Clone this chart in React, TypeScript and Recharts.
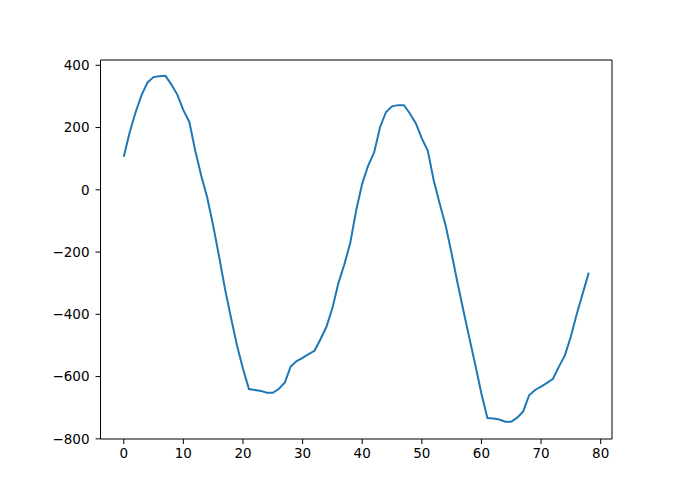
import { LineChart, Line, XAxis, YAxis, ReferenceLine } from 'recharts'

const values = [
  106, 185, 250, 305, 345, 362, 365, 366, 338, 305,
  256, 218, 125, 45, -25, -115, -215, -320, -412, -500,
  -575, -640, -643, -646, -652, -652, -640, -620, -568, -550,
  -540, -528, -517, -480, -440, -380, -300, -240, -170, -65,
  20, 78, 120, 202, 250, 268, 272, 272, 245, 213,
  165, 125, 30, -45, -115, -205, -300, -390, -478, -565,
  -655, -733, -735, -738, -745, -745, -732, -712, -660, -643,
  -632, -620, -607, -568, -532, -471, -398, -332, -266,
]

const xTicks = [0, 10, 20, 30, 40, 50, 60, 70, 80]
const yTicks = [-800, -600, -400, -200, 0, 200, 400]

const data = values.map((v, i) => ({ step: i, value: v }))

const X_MIN = -3.9
const X_MAX = 81.9
const Y_MIN = -800.5
const Y_MAX = 417

const tickStyle = { fill: '#000', fontSize: 13.5, fontFamily: 'DejaVu Sans' }
const minus = (v: number) => String(v).replace('-', '\u2212')

export default function App() {
  return (
    <div style={{ position: 'absolute', left: 0, top: 0 }}>
      <LineChart
        width={695}
        height={494}
        data={data}
        margin={{ top: 60, right: 83, bottom: 25, left: 0 }}
      >
        <XAxis
          dataKey="step"
          type="number"
          domain={[X_MIN, X_MAX]}
          ticks={xTicks}
          allowDataOverflow
          height={30}
          tick={tickStyle}
          tickSize={5}
          tickMargin={4}
          stroke="#000"
          tickFormatter={minus}
        />
        <YAxis
          type="number"
          domain={[Y_MIN, Y_MAX]}
          ticks={yTicks}
          allowDataOverflow
          width={100.5}
          tick={tickStyle}
          tickSize={5}
          tickMargin={6}
          stroke="#000"
          tickFormatter={minus}
        />
        <ReferenceLine y={Y_MAX} stroke="#000" />
        <ReferenceLine x={X_MAX} stroke="#000" />
        <Line
          type="linear"
          dataKey="value"
          stroke="#1f77b4"
          strokeWidth={2}
          dot={false}
          isAnimationActive={false}
        />
      </LineChart>
    </div>
  )
}
